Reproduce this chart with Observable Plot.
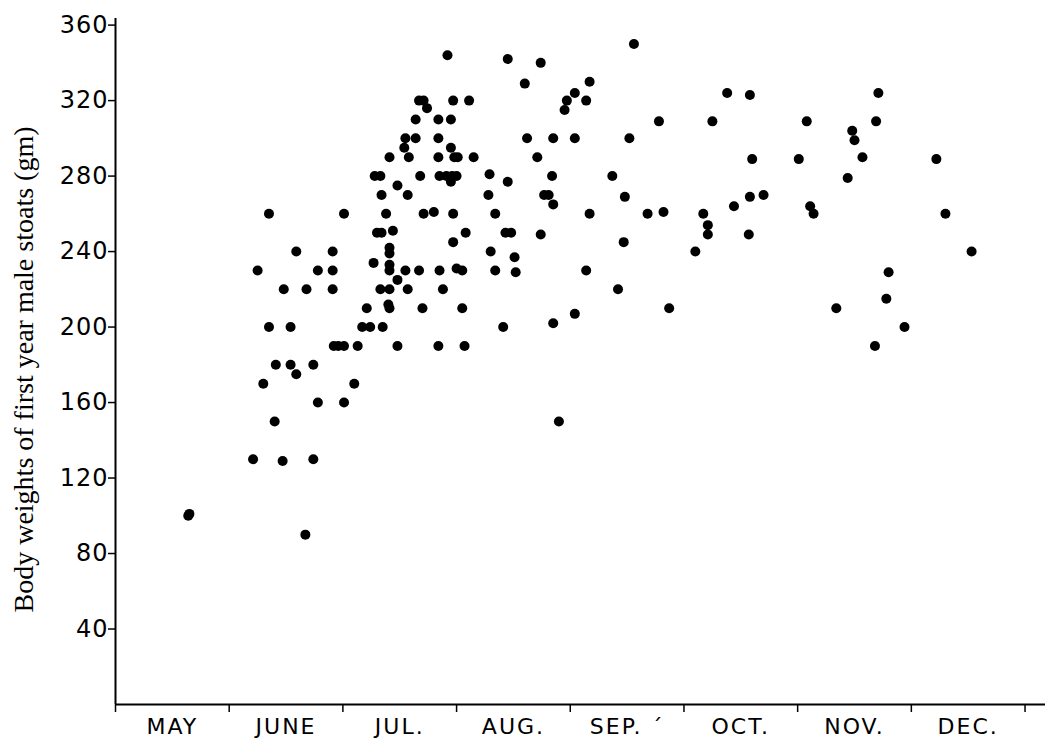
<!DOCTYPE html>
<html>
<head>
<meta charset="utf-8">
<script src="https://cdn.jsdelivr.net/npm/d3@7"></script>
<script src="https://cdn.jsdelivr.net/npm/@observablehq/plot@0.6"></script>
<style>
  html, body { margin: 0; padding: 0; background: #fff; }
  #chart svg { display: block; }
  #chart [aria-label="y-axis tick label"] text { letter-spacing: 1px; }
  #chart [aria-label="x-axis tick label"] text { letter-spacing: 2px; }
</style>
</head>
<body>
<div id="chart"></div>
<script>
// Month names along the time axis (May to December)
const months = ["MAY", "JUNE", "JUL.", "AUG.", "SEP. \u00B4", "OCT.", "NOV.", "DEC."];

// Weight axis ticks (grams)
const weightTicks = [40, 80, 120, 160, 200, 240, 280, 320, 360];

// Date of capture, in months after 1 May
const capture = [
  0.64, 0.65,
  1.21, 1.25, 1.30, 1.35, 1.35, 1.40, 1.41, 1.47, 1.48, 1.54, 1.54, 1.59, 1.59, 1.67,
  1.68, 1.74, 1.74, 1.78, 1.78, 1.91, 1.91, 1.91, 1.92, 1.96, 2.01, 2.01, 2.01, 2.10, 2.13,
  2.17, 2.24, 2.21, 2.27, 2.28, 2.33, 2.30, 2.34, 2.34, 2.33, 2.35, 2.38, 2.41, 2.41, 2.41,
  2.41, 2.41, 2.41, 2.40, 2.41, 2.44, 2.48, 2.48, 2.48, 2.54, 2.55, 2.55, 2.57, 2.57, 2.58,
  2.64, 2.64, 2.67, 2.71, 2.74, 2.68, 2.67, 2.70, 2.71, 2.80, 2.84, 2.84, 2.84, 2.85, 2.84,
  2.88, 2.85, 2.91, 2.96, 3.00, 2.95, 2.92, 2.95, 2.95, 2.98, 3.01, 2.97, 2.97, 2.97, 3.00,
  3.05, 3.05, 3.07, 3.08, 3.11, 3.15,
  3.29, 3.28, 3.30, 3.34, 3.34, 3.41, 3.45, 3.45, 3.43, 3.48, 3.51, 3.52, 3.60, 3.62, 3.71,
  3.74, 3.74, 3.77, 3.81, 3.84, 3.85, 3.85, 3.85, 3.90, 3.95, 3.97, 4.04, 4.04, 4.04, 4.14,
  4.14, 4.17, 4.17, 4.37, 4.42, 4.47, 4.48, 4.52, 4.56, 4.68, 4.78, 4.82, 4.87,
  5.10, 5.17, 5.21, 5.21, 5.25, 5.38, 5.44, 5.57, 5.58, 5.58, 5.60, 5.70,
  6.01, 6.08, 6.11, 6.14, 6.34, 6.44, 6.48, 6.50, 6.57, 6.68, 6.69, 6.71, 6.78, 6.80, 6.94,
  7.22, 7.30, 7.53
];

// Body weight of each first-year male stoat (gm)
const weight = [
  100, 101,
  130, 230, 170, 260, 200, 150, 180, 129, 220, 180, 200, 175, 240, 90,
  220, 180, 130, 230, 160, 240, 230, 220, 190, 190, 190, 260, 160, 170, 190,
  200, 200, 210, 234, 280, 280, 250, 250, 270, 220, 200, 260, 290, 242, 239,
  233, 230, 220, 212, 210, 251, 275, 225, 190, 295, 300, 230, 270, 220, 290,
  310, 300, 320, 320, 316, 280, 230, 210, 260, 261, 310, 300, 290, 230, 190,
  220, 280, 280, 280, 280, 277, 344, 310, 295, 290, 290, 320, 260, 245, 231,
  230, 210, 190, 250, 320, 290,
  281, 270, 240, 260, 230, 200, 277, 342, 250, 250, 237, 229, 329, 300, 290,
  340, 249, 270, 270, 280, 300, 265, 202, 150, 315, 320, 324, 300, 207, 320,
  230, 330, 260, 280, 220, 245, 269, 300, 350, 260, 309, 261, 210,
  240, 260, 254, 249, 309, 324, 264, 249, 323, 269, 289, 270,
  289, 309, 264, 260, 210, 279, 304, 299, 290, 190, 309, 324, 215, 229, 200,
  289, 260, 240
];

const stoats = capture.map((m, i) => ({month: m, weight: weight[i]}));
const monthEdges = d3.range(months.length + 1);
const monthMids = months.map((d, i) => i + 0.5);
const yMax = 363.5;

const chart = Plot.plot({
  width: 1047,
  height: 742,
  marginLeft: 115,
  marginRight: 2,
  marginTop: 18,
  marginBottom: 38,
  style: {fontFamily: "'DejaVu Sans', sans-serif", color: "#000", background: "#fff"},
  x: {domain: [0, 8.18], axis: null},
  y: {domain: [0, yMax], axis: null},
  marks: [
    Plot.ruleX([0], {y1: 0, y2: yMax, stroke: "#000", strokeWidth: 2}),
    Plot.ruleY([0], {stroke: "#000", strokeWidth: 2}),
    Plot.axisY({
      ticks: weightTicks, tickSize: 7, tickPadding: 0, strokeWidth: 1.5,
      fontSize: 24, label: null, tickFormat: d => String(d)
    }),
    Plot.axisX({
      ticks: monthEdges, tickSize: 8, strokeWidth: 1.5,
      tickFormat: () => "", label: null
    }),
    Plot.axisX({
      ticks: monthMids, tickSize: 0, tickPadding: 14,
      fontSize: 22, label: null, tickFormat: d => months[Math.floor(d)]
    }),
    Plot.dot(stoats, {x: "month", y: "weight", r: 5, fill: "#000", stroke: null}),
    Plot.text(["Body weights of first year male stoats (gm)"], {
      frameAnchor: "left", textAnchor: "middle", rotate: -90, dx: -91, dy: 8,
      fontFamily: "'Liberation Serif', 'DejaVu Serif', serif", fontSize: 28, fill: "#000"
    })
  ]
});

document.getElementById("chart").append(chart);
</script>
</body>
</html>
